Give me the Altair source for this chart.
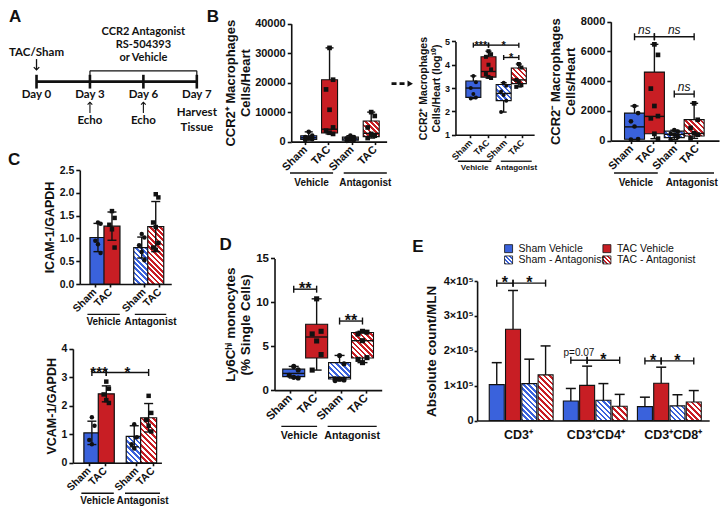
import math
import altair as alt
import pandas as pd

# ---------------- canvas mapping (reference px -> chart px) ----------------
W, H = 712, 498
SX, SY = 712 / 724, 498 / 507
def X(v): return (v - 2) * SX
def Y(v): return (v - 3) * SY

FONT = "Liberation Sans"
TLFONT = "Lato"
INK = "#111111"
BLUE = "#3a62dc"
RED = "#c81e24"

# ---------------- data ----------------
days = ["Day 0", "Day 3", "Day 6", "Day 7"]
start_label = "TAC/Sham"
treatment_label = ["CCR2 Antagonist", "RS-504393", "or Vehicle"]
treatment_days = [1, 3]
echo_days = [1, 2]
harvest_label = ["Harvest", "Tissue"]

treat = ["Sham", "TAC", "Sham", "TAC"]
groups = ["Vehicle", "Antagonist"]

b1_pts = [[3300, 2000, 1500, 1200, 800, 500],
          [31800, 21000, 17700, 10800, 4800, 3700, 3000, 2600],
          [2000, 1500, 1100, 800, 500, 200],
          [10000, 8700, 4800, 2600, 2000, 1200]]
b1_lo = [500, 2600, 200, 1200]
b1_q1 = [700, 2900, 450, 1700]
b1_med = [1300, 4200, 900, 2800]
b1_q3 = [2000, 21000, 1500, 7000]
b1_hi = [3300, 31800, 2000, 10000]

b2_pts = [[3.52, 3.25, 3.0, 2.75, 2.6, 2.55],
          [4.58, 4.45, 4.34, 4.0, 3.8, 3.6, 3.48, 3.43],
          [3.23, 3.1, 2.85, 2.7, 2.46, 1.97],
          [4.03, 3.88, 3.35, 3.25, 3.12, 3.05]]
b2_lo = [2.55, 3.43, 1.97, 3.05]
b2_q1 = [2.6, 3.47, 2.46, 3.19]
b2_med = [3.0, 3.71, 2.77, 3.35]
b2_q3 = [3.3, 4.34, 3.15, 3.86]
b2_hi = [3.52, 4.58, 3.23, 4.03]
b2_sig = ([0, 1, 2], [1, 3, 3], [4.84, 4.84, 4.31], ["***", "*", "*"])

b3_pts = [[2330, 1850, 1300, 950, 100, 60],
          [6480, 5770, 3500, 2330, 1650, 1500, 460, 130],
          [700, 600, 450, 400, 250, 60],
          [2510, 1400, 850, 500, 400, 150]]
b3_lo = [60, 130, 60, 150]
b3_q1 = [90, 460, 200, 310]
b3_med = [925, 1630, 420, 480]
b3_q3 = [1850, 4610, 640, 1410]
b3_hi = [2330, 6480, 700, 2510]
b3_sig = ([0, 1, 2], [1, 3, 3], [6990, 6990, 3130], ["ns", "ns", "ns"])

icam_mean = [1.02, 1.27, 0.80, 1.26]
icam_sd = [0.31, 0.31, 0.23, 0.55]
icam_pts = [[1.35, 1.32, 0.95, 0.87, 0.68], [1.6, 1.45, 1.3, 1.2, 0.8],
            [1.1, 1.02, 0.85, 0.7, 0.52], [1.97, 1.9, 1.35, 1.25, 0.9, 0.8, 0.75]]
vcam_mean = [1.05, 2.42, 0.93, 1.58]
vcam_sd = [0.41, 0.28, 0.37, 0.50]
vcam_pts = [[1.6, 1.3, 0.8, 0.65], [2.85, 2.6, 2.4, 2.2, 2.1],
            [1.35, 0.9, 0.65, 0.5], [2.35, 1.75, 1.5, 1.3, 1.1]]
vcam_sig = ([0, 1], [1, 3], [3.17, 3.17], ["***", "*"])

d_pts = [[2.7, 2.3, 1.7, 1.45, 1.38],
         [10.4, 6.7, 6.4, 5.6, 4.05, 2.28],
         [3.95, 3.0, 1.3, 1.25, 1.15, 1.08],
         [6.7, 6.6, 6.4, 5.63, 3.7, 3.5, 3.13]]
d_lo = [1.38, 2.28, 1.08, 3.13]
d_q1 = [1.53, 3.66, 1.27, 3.66]
d_med = [1.9, 6.05, 1.45, 5.63]
d_q3 = [2.39, 7.5, 3.13, 6.57]
d_hi = [2.7, 10.4, 3.95, 6.7]
d_sig = ([0, 2], [1, 3], [11.5, 7.87], ["**", "**"])

e_cats = ["CD3⁺", "CD3⁺CD4⁺", "CD3⁺CD8⁺"]
e_series = ["Sham Vehicle", "TAC Vehicle", "Sham - Antagonist", "TAC - Antagonist"]
e_mean = [[1.03e5, 2.62e5, 1.06e5, 1.31e5],
          [0.56e5, 1.01e5, 0.58e5, 0.41e5],
          [0.40e5, 1.07e5, 0.42e5, 0.53e5]]
e_top = [[1.66e5, 3.73e5, 1.76e5, 2.14e5],
         [0.92e5, 1.56e5, 1.06e5, 0.75e5],
         [0.67e5, 1.53e5, 0.74e5, 0.86e5]]
e_sig_group = [0, 0, 1, 1, 2, 2]
e_sig = ([0, 1, 0, 1, 0, 1], [1, 3, 1, 3, 1, 3],
         [3.94e5, 3.94e5, 1.73e5, 1.73e5, 1.71e5, 1.71e5],
         ["*", "*", "p=0.07", "*", "*", "*"])

# ---------------- geometry (reference px) ----------------
G_B1 = dict(ax_x=290, ax_y=139, y_top=19, xr=[290, 387], xdom=[-0.6, 3.5], ydom=[0, 40000],
            yticks=[0, 10000, 20000, 30000, 40000], yfmt="d", box_w=16, cap_w=8, tfs=13, ylfs=11,
            xlfs=11, gspan=[(-0.9, 1.17), (1.68, 3.75)], gline=171, gtext=181, gfs=10, jpx=4,
            psize=22, tpad=2)
G_B2 = dict(ax_x=457, ax_y=132, y_top=37, xr=[457, 537], xdom=[-0.85, 3.68], ydom=[1, 5],
            yticks=[1, 2, 3, 4, 5], yfmt="d", box_w=15, cap_w=6, tfs=10.5, ylfs=9, xlfs=9,
            gspan=[(-1.02, 1.19), (1.81, 3.85)], gline=159, gtext=166, gfs=8, jpx=3, psize=16, tpad=3)
G_B3 = dict(ax_x=615, ax_y=138, y_top=17, xr=[615, 725], xdom=[-0.94, 4.0], ydom=[0, 8000],
            yticks=[0, 2000, 4000, 6000, 8000], yfmt="d", box_w=20, cap_w=8, tfs=13, ylfs=11,
            xlfs=11, gspan=[(-1.03, 1.17), (1.76, 4.0)], gline=171, gtext=181, gfs=10, jpx=4,
            psize=22, tpad=3)
G_D = dict(ax_x=273, ax_y=392, y_top=258, xr=[273, 382], xdom=[-0.62, 3.62], ydom=[0, 15],
           yticks=[0, 5, 10, 15], yfmt="d", box_w=22, cap_w=10, tfs=13.5, ylfs=11.5, xlfs=11.5,
           gspan=[(-0.54, 1.02), (1.48, 3.62)], gline=429, gtext=439, gfs=10.7, jpx=5, psize=26,
           tpad=3)
G_IC = dict(ax_x=75, ax_y=284, y_top=168, xr=[75, 168], xdom=[-0.94, 4.875], ydom=[0, 2.5],
            yticks=[0, 0.5, 1.0, 1.5, 2.0, 2.5], yfmt=".1f", gap=1.125, bar_w=16, cap_w=9,
            tfs=12.5, ylfs=10.5, xlfs=10.5, gspan=[(-0.75, 1.56), (2.63, 4.875)], gline=315,
            gtext=323, gfs=10, jpx=3, psize=20, tpad=3)
G_VC = dict(ax_x=68, ax_y=466, y_top=350, xr=[68, 158], xdom=[-0.97, 4.48], ydom=[0, 4],
            yticks=[0, 1, 2, 3, 4], yfmt="d", gap=0.94, bar_w=16, cap_w=9,
            tfs=12.5, ylfs=10.5, xlfs=10.5, gspan=[(-0.73, 1.52), (2.30, 4.73)], gline=497,
            gtext=505, gfs=10, jpx=3, psize=20, tpad=3)
G_E = dict(ax_x=479, ax_y=423, y_top=281, xr=[479, 715], xdom=[-0.9, 12.74], ydom=[0, 4e5],
           yticks=[0, 1e5, 2e5, 3e5, 4e5], bar_w=15, cap_w=10, gstep=4.55)

ONE = pd.DataFrame({"o": [0]})
AXIS_CHARTS = []
CHEVRON_DOWN = "M-1,-1L0,0L1,-1"
CHEVRON_UP = "M-1,1L0,0L1,1"


def lin(v, d, r):
    return r[0] + (v - d[0]) / (d[1] - d[0]) * (r[1] - r[0])


def px_h(g, a, b):
    r = [g["ax_y"], g["y_top"]]
    return abs(lin(a, g["ydom"], r) - lin(b, g["ydom"], r)) * SY


def hatch(color, w, h, period=3.8, bg="#ffffff"):
    w = max(float(w), 1.0)
    h = max(float(h), 1.0)
    lam = (w + h) / (w * w + h * h)
    n = max(1, int(round((w + h) / (period * math.sqrt(2)))))
    stops = []
    for i in range(n):
        a, m, b = i / n, (i + 0.5) / n, (i + 1) / n
        stops += [{"offset": a, "color": color}, {"offset": m, "color": color},
                  {"offset": m, "color": bg}, {"offset": b, "color": bg}]
    return {"gradient": "linear", "x1": 0, "y1": 1, "x2": lam * w, "y2": 1 - lam * h, "stops": stops}


def scales(g):
    xs = alt.Scale(domain=g["xdom"], range=[X(g["xr"][0]), X(g["xr"][1])], nice=False, zero=False)
    ys = alt.Scale(domain=g["ydom"], range=[Y(g["ax_y"]), Y(g["y_top"])], nice=False, zero=False)
    return xs, ys


def pos_expr(field, gap):
    return f"datum.{field} + (datum.{field} >= 2 ? {gap} : 0)"


def label_expr(positions, labels):
    expr = repr(labels[-1])
    for i in range(len(positions) - 2, -1, -1):
        mid = (positions[i] + positions[i + 1]) / 2
        expr = f"datum.value < {mid} ? {labels[i]!r} : ({expr})"
    return expr


def cat_axes(g, ytitle, xpos):
    yax = alt.Axis(orient="left", offset=-X(g["ax_x"]), values=g["yticks"], title=ytitle,
                   format=g["yfmt"], titleFontSize=g["tfs"], titleLineHeight=g["tfs"] + 2,
                   labelFontSize=g["ylfs"], titlePadding=g["tpad"])
    xax = alt.Axis(orient="bottom", offset=Y(g["ax_y"]) - H, values=xpos,
                   labelExpr=label_expr(xpos, treat), title=None, labelFontSize=g["xlfs"],
                   labelAngle=-45, labelAlign="right", labelBaseline="middle", tickSize=3,
                   labelPadding=3)
    return xax, yax


def axis_chart(xs, ys, xax, yax):
    """Axes drawn through the panel's own (identical) scales, in a layer of their own."""
    df = pd.DataFrame({"ax": list(xs.domain), "ay": list(ys.domain)})
    return alt.Chart(df).mark_point(opacity=0, size=1).encode(
        x=alt.X("ax:Q", scale=xs, axis=xax), y=alt.Y("ay:Q", scale=ys, axis=yax))


def point_layers(g, pts, xs, ys, gap):
    ppu = (g["xr"][1] - g["xr"][0]) / (g["xdom"][1] - g["xdom"][0])
    rows = [{"idx": k, "v": v} for k, vals in enumerate(pts) for v in vals]
    base = (alt.Chart(pd.DataFrame(rows))
            .transform_calculate(pos=pos_expr("idx", gap))
            .transform_window(rn="row_number()", groupby=["idx"])
            .transform_calculate(xp=f"datum.pos + ((datum.rn % 3) - 1) * {g['jpx'] / ppu}"))
    out = []
    for shp, ks in (("circle", [0, 2]), ("square", [1, 3])):
        out.append(base.transform_filter(f"datum.idx == {ks[0]} || datum.idx == {ks[1]}")
                   .mark_point(shape=shp, filled=True, size=g["psize"], color=INK, opacity=1)
                   .encode(x=alt.X("xp:Q", scale=xs, axis=None), y=alt.Y("v:Q", scale=ys, axis=None)))
    return out


def sig_layers(sig, xs, ys, p1e, p2e, cap_h, star_fs, star_dy, other_fs=10, other_dy=-3,
               other_style="normal", other_weight="normal", extra=None):
    a, b, yv, labs = sig
    cols = {"a": a, "b": b, "y": yv, "lab": labs}
    if extra:
        cols.update(extra)
    base = (alt.Chart(pd.DataFrame(cols)).transform_calculate(p1=p1e, p2=p2e)
            .transform_calculate(pm="(datum.p1 + datum.p2) / 2"))
    yq = alt.Y("y:Q", scale=ys, axis=None)
    def xq(f): return alt.X(f, type="quantitative", scale=xs, axis=None)
    return [
        base.mark_rule(color=INK, strokeWidth=1.4, opacity=1).encode(x=xq("p1"), x2="p2:Q", y=yq),
        base.transform_fold(["p1", "p2"], as_=["e", "ex"])
            .mark_tick(orient="vertical", size=cap_h, thickness=1.4, color=INK, opacity=1)
            .encode(x=xq("ex"), y=yq),
        base.transform_filter("indexof(datum.lab, '*') >= 0")
            .mark_text(font=FONT, fontSize=star_fs, fontWeight="bold", baseline="alphabetic",
                       dy=star_dy, color=INK)
            .encode(x=xq("pm"), y=yq, text="lab:N"),
        base.transform_filter("indexof(datum.lab, '*') < 0")
            .mark_text(font=FONT, fontSize=other_fs, fontWeight=other_weight, fontStyle=other_style,
                       baseline="alphabetic", dy=other_dy, color=INK)
            .encode(x=xq("pm"), y=yq, text="lab:N"),
    ]


def group_layers(g, xs):
    L = []
    for gi, name in enumerate(groups):
        l, r = g["gspan"][gi]
        L.append(alt.Chart(ONE).mark_rule(color=INK, strokeWidth=1.3).encode(
            x=alt.XDatum(l, type="quantitative", scale=xs, axis=None), x2=alt.X2Datum(r),
            y=alt.value(Y(g["gline"]))))
        L.append(alt.Chart(ONE).mark_text(text=name, font=FONT, fontWeight="bold", fontSize=g["gfs"],
                                          color=INK, baseline="middle").encode(
            x=alt.XDatum((l + r) / 2, type="quantitative", scale=xs, axis=None),
            y=alt.value(Y(g["gtext"]))))
    return L


def box_panel(g, pts, lo, q1, med, q3, hi, sig, ytitle, sigkw):
    xs, ys = scales(g)
    stats = pd.DataFrame({"idx": list(range(4)), "lo": lo, "q1": q1, "med": med, "q3": q3, "hi": hi})
    base = alt.Chart(stats).transform_calculate(pos="datum.idx")
    AXIS_CHARTS.append((xs, ys) + cat_axes(g, ytitle, [0, 1, 2, 3]))
    xp = alt.X("pos:Q", scale=xs, axis=None)
    L = [base.mark_rule(color=INK, strokeWidth=1.4, opacity=1).encode(
        x=xp, y=alt.Y("lo:Q", scale=ys, axis=None), y2="hi:Q")]
    for k in range(4):
        col = BLUE if treat[k] == "Sham" else RED
        fill = col if k < 2 else hatch(col, g["box_w"], px_h(g, q1[k], q3[k]))
        L.append(base.transform_filter(alt.datum.idx == k)
                 .mark_bar(size=g["box_w"], fill=fill, stroke=INK, strokeWidth=1.1, opacity=1)
                 .encode(x=xp, y=alt.Y("q1:Q", scale=ys, axis=None), y2="q3:Q"))
    L.append(base.mark_tick(orient="horizontal", size=g["box_w"], thickness=1.4, color=INK, opacity=1)
             .encode(x=xp, y=alt.Y("med:Q", scale=ys, axis=None)))
    L.append(base.transform_fold(["lo", "hi"], as_=["k", "v"])
             .mark_tick(orient="horizontal", size=g["cap_w"], thickness=1.4, color=INK, opacity=1)
             .encode(x=xp, y=alt.Y("v:Q", scale=ys, axis=None)))
    L += point_layers(g, pts, xs, ys, 0)
    if sig:
        L += sig_layers(sig, xs, ys, "datum.a", "datum.b", **sigkw)
    L += group_layers(g, xs)
    return alt.layer(*L)


def bar_panel(g, mean, sd, pts, sig, ytitle, sigkw):
    gap = g["gap"]
    xs, ys = scales(g)
    stats = pd.DataFrame({"idx": list(range(4)), "m": mean, "sd": sd})
    base = alt.Chart(stats).transform_calculate(
        pos=pos_expr("idx", gap), lo="datum.m - datum.sd", hi="datum.m + datum.sd")
    xpos = [k + (gap if k >= 2 else 0) for k in range(4)]
    AXIS_CHARTS.append((xs, ys) + cat_axes(g, ytitle, xpos))
    xp = alt.X("pos:Q", scale=xs, axis=None)
    L = []
    for k in range(4):
        col = BLUE if treat[k] == "Sham" else RED
        fill = col if k < 2 else hatch(col, g["bar_w"], px_h(g, 0, mean[k]))
        L.append(base.transform_filter(alt.datum.idx == k)
                 .mark_bar(size=g["bar_w"], fill=fill, stroke=INK, strokeWidth=1.2, opacity=1)
                 .encode(x=xp, y=alt.Y("m:Q", scale=ys, axis=None), y2=alt.Y2Datum(0)))
    L.append(base.mark_rule(color=INK, strokeWidth=1.4, opacity=1).encode(
        x=xp, y=alt.Y("lo:Q", scale=ys, axis=None), y2="hi:Q"))
    L.append(base.transform_fold(["lo", "hi"], as_=["k", "v"])
             .mark_tick(orient="horizontal", size=g["cap_w"], thickness=1.4, color=INK, opacity=1)
             .encode(x=xp, y=alt.Y("v:Q", scale=ys, axis=None)))
    L += point_layers(g, pts, xs, ys, gap)
    if sig:
        L += sig_layers(sig, xs, ys, pos_expr("a", gap), pos_expr("b", gap), **sigkw)
    L += group_layers(g, xs)
    return alt.layer(*L)


def panel_A():
    xs = alt.Scale(domain=[0, len(days) - 1], range=[X(31), X(194)], nice=False, zero=False)
    df = pd.DataFrame({"idx": list(range(len(days))), "label": days})
    ex = pd.DataFrame({"idx": echo_days})
    tdf = pd.DataFrame({"idx": treatment_days})
    def xd(v): return alt.XDatum(v, type="quantitative", scale=xs, axis=None)
    xf = alt.X("idx:Q", scale=xs, axis=None)
    tl = dict(font=TLFONT, fontWeight="bold", color=INK)
    L = [
        alt.Chart(df).mark_rule(color=INK, strokeWidth=2.6).encode(
            x=alt.X("min(idx):Q", scale=xs, axis=None), x2="max(idx):Q", y=alt.value(Y(78))),
        alt.Chart(df).mark_rule(color=INK, strokeWidth=2.6).encode(
            x=xf, y=alt.value(Y(71)), y2=alt.value(Y(85))),
        alt.Chart(df).mark_text(fontSize=11.5, baseline="middle", **tl).encode(
            x=xf, y=alt.value(Y(91.5)), text="label:N"),
        alt.Chart(ONE).mark_text(text=start_label, fontSize=11.5, baseline="middle", **tl).encode(
            x=xd(0), y=alt.value(Y(49))),
        # arrow into the timeline at day 0
        alt.Chart(ONE).mark_rule(color=INK, strokeWidth=1.3).encode(
            x=xd(0), y=alt.value(Y(55)), y2=alt.value(Y(66))),
        alt.Chart(ONE).mark_point(shape=CHEVRON_DOWN, filled=False, size=30, stroke=INK,
                                  strokeWidth=1.3, opacity=1).encode(x=xd(0), y=alt.value(Y(66))),
        # echo arrows
        alt.Chart(ex).mark_rule(color=INK, strokeWidth=1.1).encode(
            x=xf, y=alt.value(Y(99)), y2=alt.value(Y(110))),
        alt.Chart(ex).mark_point(shape=CHEVRON_UP, filled=False, size=22, stroke=INK,
                                 strokeWidth=1.1, opacity=1).encode(x=xf, y=alt.value(Y(99))),
        alt.Chart(ex).mark_text(text="Echo", fontSize=11.5, baseline="middle", **tl).encode(
            x=xf, y=alt.value(Y(118))),
        alt.Chart(ONE).mark_text(text=harvest_label, fontSize=11.5, baseline="top", lineHeight=15,
                                 **tl).encode(x=xd(3), y=alt.value(Y(104))),
        alt.Chart(tdf).mark_rule(color=INK, strokeWidth=1.2).encode(
            x=alt.X("min(idx):Q", scale=xs, axis=None), x2="max(idx):Q", y=alt.value(Y(67))),
        alt.Chart(tdf).mark_rule(color=INK, strokeWidth=1.2).encode(
            x=xf, y=alt.value(Y(67)), y2=alt.value(Y(72))),
        alt.Chart(ONE).mark_text(text=treatment_label, fontSize=11, baseline="top", lineHeight=13,
                                 **tl).encode(x=xd(2), y=alt.value(Y(21))),
    ]
    return alt.layer(*L)


def panel_E():
    g = G_E
    xs, ys = scales(g)
    rows = [{"g": gi, "s": si, "m": e_mean[gi][si], "top": e_top[gi][si]}
            for gi in range(len(e_cats)) for si in range(len(e_series))]
    base = alt.Chart(pd.DataFrame(rows)).transform_calculate(pos=f"datum.g * {g['gstep']} + datum.s")
    centers = [gi * g["gstep"] + 1.5 for gi in range(len(e_cats))]
    yax = alt.Axis(orient="left", offset=-X(g["ax_x"]), values=g["yticks"],
                   title="Absolute count/MLN", titleFontSize=13.5, labelFontSize=11,
                   labelExpr="datum.value == 0 ? '0' : format(datum.value / 100000, 'd') + '×10⁵'",
                   titlePadding=5, tickSize=3, labelPadding=1)
    xax = alt.Axis(orient="bottom", offset=Y(g["ax_y"]) - H, values=centers,
                   labelExpr=label_expr(centers, e_cats), title=None, labelFontSize=12.5,
                   ticks=False, labelPadding=8, labelAngle=0, labelAlign="center", labelBaseline="top")
    AXIS_CHARTS.append((xs, ys, xax, yax))
    xp = alt.X("pos:Q", scale=xs, axis=None)
    L = []
    for gi in range(len(e_cats)):
        for si in range(len(e_series)):
            col = BLUE if si % 2 == 0 else RED
            fill = col if si < 2 else hatch(col, g["bar_w"], px_h(g, 0, e_mean[gi][si]))
            L.append(base.transform_filter(f"datum.g == {gi} && datum.s == {si}")
                     .mark_bar(size=g["bar_w"], fill=fill, stroke=INK, strokeWidth=1.1, opacity=1)
                     .encode(x=xp, y=alt.Y("m:Q", scale=ys, axis=None), y2=alt.Y2Datum(0)))
    L.append(base.mark_rule(color=INK, strokeWidth=1.4, opacity=1).encode(
        x=xp, y=alt.Y("m:Q", scale=ys, axis=None), y2="top:Q"))
    L.append(base.mark_tick(orient="horizontal", size=g["cap_w"], thickness=1.5, color=INK, opacity=1)
             .encode(x=xp, y=alt.Y("top:Q", scale=ys, axis=None)))
    gs = g["gstep"]
    L += sig_layers(e_sig, xs, ys, f"datum.g * {gs} + datum.a", f"datum.g * {gs} + datum.b",
                    cap_h=7, star_fs=16, star_dy=5, other_fs=10, other_dy=-4,
                    extra={"g": e_sig_group})
    return alt.layer(*L)


def legend_E():
    xs = alt.Scale(domain=[0, 1], range=[X(511), X(611)], nice=False, zero=False)
    ys = alt.Scale(domain=[0, 1], range=[Y(248), Y(259.5)], nice=False, zero=False)
    base = alt.Chart(pd.DataFrame({"i": list(range(len(e_series))), "name": e_series})) \
        .transform_calculate(c="datum.i % 2", r="floor(datum.i / 2)")
    enc = dict(x=alt.X("c:Q", scale=xs, axis=None), y=alt.Y("r:Q", scale=ys, axis=None))
    L = []
    for k in range(len(e_series)):
        col = BLUE if k % 2 == 0 else RED
        fill = col if k < 2 else hatch(col, 8, 8, period=3.2)
        L.append(base.transform_filter(alt.datum.i == k)
                 .mark_square(size=64, fill=fill, stroke=INK, strokeWidth=0.8, opacity=1).encode(**enc))
    L.append(base.mark_text(align="left", baseline="middle", dx=10, font=FONT, fontSize=10.5,
                            color=INK).encode(text="name:N", **enc))
    return alt.layer(*L)


def letter(s, x, y):
    return alt.Chart(ONE).mark_text(text=s, font=FONT, fontSize=17, fontWeight="bold", align="left",
                                    baseline="alphabetic", color=INK).encode(
        x=alt.value(X(x)), y=alt.value(Y(y)))


arrow = alt.layer(
    alt.Chart(ONE).mark_rule(color=INK, strokeWidth=2.6, strokeDash=[5, 3]).encode(
        x=alt.value(X(392)), x2=alt.value(X(408)), y=alt.value(Y(80))),
    alt.Chart(ONE).mark_point(shape="triangle-right", filled=True, size=40, color=INK, opacity=1).encode(
        x=alt.value(X(411)), y=alt.value(Y(80))),
)

star_kw = dict(cap_h=7, star_fs=15, star_dy=5)

pB1 = box_panel(G_B1, b1_pts, b1_lo, b1_q1, b1_med, b1_q3, b1_hi, None,
                ["CCR2⁺ Macrophages", "Cells/Heart"], star_kw)
pB2 = box_panel(G_B2, b2_pts, b2_lo, b2_q1, b2_med, b2_q3, b2_hi, b2_sig,
                ["CCR2⁺ Macrophages", "Cells/Heart (log¹⁰)"], dict(cap_h=5, star_fs=11, star_dy=4))
pB3 = box_panel(G_B3, b3_pts, b3_lo, b3_q1, b3_med, b3_q3, b3_hi, b3_sig,
                ["CCR2⁻ Macrophages", "Cells/Heart"],
                dict(cap_h=7, star_fs=15, star_dy=5, other_fs=12, other_dy=-3, other_style="italic"))
pD = box_panel(G_D, d_pts, d_lo, d_q1, d_med, d_q3, d_hi, d_sig,
               ["Ly6Cʰⁱ monocytes", "(% Single Cells)"], dict(cap_h=7, star_fs=16, star_dy=5))
pIC = bar_panel(G_IC, icam_mean, icam_sd, icam_pts, None, "ICAM-1/GAPDH", star_kw)
pVC = bar_panel(G_VC, vcam_mean, vcam_sd, vcam_pts, vcam_sig, "VCAM-1/GAPDH",
                dict(cap_h=7, star_fs=15, star_dy=5))
pE = panel_E()

letters = alt.layer(letter("A", 3, 17), letter("B", 204, 17), letter("C", 2, 163),
                    letter("D", 217, 249), letter("E", 413, 251))

axis_layers = [axis_chart(*a) for a in AXIS_CHARTS]

chart = (alt.layer(panel_A(), pB1, arrow, pB2, pB3, pIC, pVC, pD, pE, legend_E(), letters, *axis_layers)
         .resolve_scale(x="independent", y="independent")
         .properties(width=W, height=H, padding=0, autosize=alt.AutoSizeParams(type="none"))
         .configure(font=FONT)
         .configure_view(stroke=None)
         .configure_axis(domainColor=INK, domainWidth=1.6, tickColor=INK, tickWidth=1.6, tickSize=4,
                         labelFont=FONT, labelFontWeight="bold", labelColor=INK, labelPadding=2,
                         titleFont=FONT, titleFontWeight="bold", titleColor=INK, grid=False,
                         labelFlush=False, labelOverlap=False))

chart.save("out.html", embed_options={"renderer": "svg", "actions": False})
